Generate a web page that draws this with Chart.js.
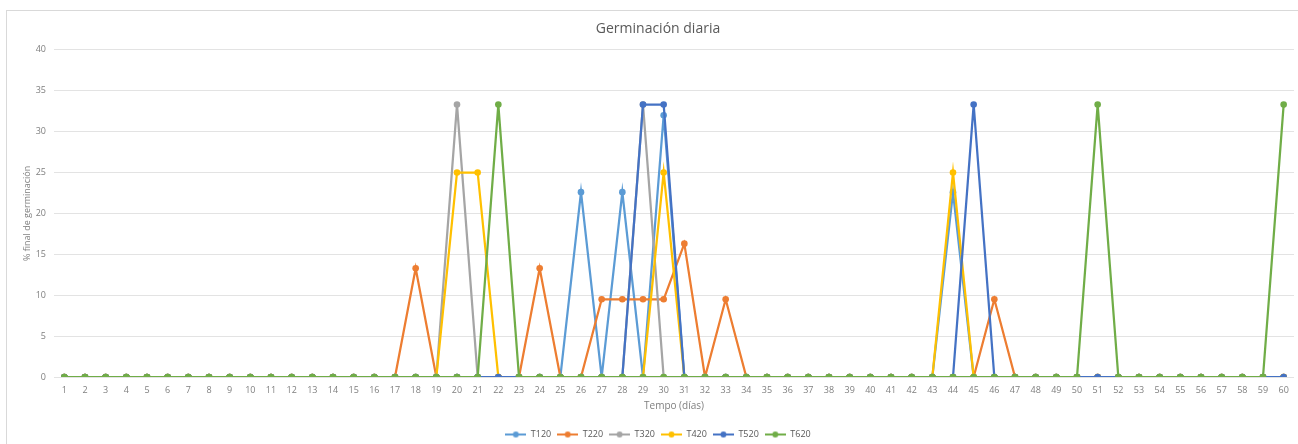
<!DOCTYPE html>
<html>
<head>
<meta charset="utf-8">
<script src="https://cdn.jsdelivr.net/npm/chart.js@4"></script>
<style>
  html, body { margin: 0; padding: 0; background: #fff; }
  #frame { position: absolute; left: 6px; top: 10px; width: 1300px; height: 440px; border: 1px solid #d9d9d9; box-sizing: border-box; }
  #wrap { position: absolute; left: 0; top: 0; width: 1298px; height: 444px; }
</style>
</head>
<body>
<div id="frame"></div>
<div id="wrap"><canvas id="c" width="1298" height="444"></canvas></div>
<script>
// Days of the trial (x axis categories)
const days = [
  '1','2','3','4','5','6','7','8','9','10',
  '11','12','13','14','15','16','17','18','19','20',
  '21','22','23','24','25','26','27','28','29','30',
  '31','32','33','34','35','36','37','38','39','40',
  '41','42','43','44','45','46','47','48','49','50',
  '51','52','53','54','55','56','57','58','59','60'
];

// Daily germination (%) per treatment
const t120 = [
  0,0,0,0,0,0,0,0,0,0,
  0,0,0,0,0,0,0,0,0,0,
  0,0,0,0,0,22.6,0,22.6,0,32,
  0,0,0,0,0,0,0,0,0,0,
  0,0,0,22.6,0,0,0,0,0,0,
  0,0,0,0,0,0,0,0,0,0
];
const t220 = [
  0,0,0,0,0,0,0,0,0,0,
  0,0,0,0,0,0,0,13.3,0,0,
  0,0,0,13.3,0,0,9.5,9.5,9.5,9.5,
  16.3,0,9.5,0,0,0,0,0,0,0,
  0,0,0,0,0,9.5,0,0,0,0,
  0,0,0,0,0,0,0,0,0,0
];
const t320 = [
  0,0,0,0,0,0,0,0,0,0,
  0,0,0,0,0,0,0,0,0,33.3,
  0,0,0,0,0,0,0,0,33.3,0,
  0,0,0,0,0,0,0,0,0,0,
  0,0,0,0,0,0,0,0,0,0,
  0,0,0,0,0,0,0,0,0,0
];
const t420 = [
  0,0,0,0,0,0,0,0,0,0,
  0,0,0,0,0,0,0,0,0,25,
  25,0,0,0,0,0,0,0,0,25,
  0,0,0,0,0,0,0,0,0,0,
  0,0,0,25,0,0,0,0,0,0,
  0,0,0,0,0,0,0,0,0,0
];
const t520 = [
  0,0,0,0,0,0,0,0,0,0,
  0,0,0,0,0,0,0,0,0,0,
  0,0,0,0,0,0,0,0,33.3,33.3,
  0,0,0,0,0,0,0,0,0,0,
  0,0,0,0,33.3,0,0,0,0,0,
  0,0,0,0,0,0,0,0,0,0
];
const t620 = [
  0,0,0,0,0,0,0,0,0,0,
  0,0,0,0,0,0,0,0,0,0,
  0,33.3,0,0,0,0,0,0,0,0,
  0,0,0,0,0,0,0,0,0,0,
  0,0,0,0,0,0,0,0,0,0,
  33.3,0,0,0,0,0,0,0,0,33.3
];

const seriesNames = ['T120','T220','T320','T420','T520','T620'];
const seriesColors = ['#5B9BD5','#ED7D31','#A5A5A5','#FFC000','#4472C4','#70AD47'];
const seriesValues = [t120, t220, t320, t420, t520, t620];

// Small "line with marker" swatch for the legend
function legendSwatch(color) {
  const cv = document.createElement('canvas');
  cv.width = 21; cv.height = 8;
  const g = cv.getContext('2d');
  g.strokeStyle = color; g.lineWidth = 2;
  g.beginPath(); g.moveTo(0, 4); g.lineTo(21, 4); g.stroke();
  g.fillStyle = color;
  g.beginPath(); g.arc(10.5, 4, 3, 0, Math.PI * 2); g.fill();
  return cv;
}

const datasets = seriesNames.map((name, i) => ({
  label: name,
  data: seriesValues[i],
  borderColor: seriesColors[i],
  backgroundColor: seriesColors[i],
  borderWidth: 2.25,
  pointRadius: 3.3,
  pointHoverRadius: 3.3,
  pointBorderWidth: 0,
  tension: 0,
  order: seriesNames.length - i,
  pointStyle: 'circle'
}));

const swatches = seriesColors.map(legendSwatch);

new Chart(document.getElementById('c'), {
  type: 'line',
  data: { labels: days, datasets: datasets },
  options: {
    responsive: false,
    animation: false,
    layout: { padding: { left: 22, right: 4, top: 0, bottom: -5 } },
    plugins: {
      tooltip: { enabled: false },
      title: {
        display: true,
        text: 'Germinación diaria',
        color: '#595959',
        font: { family: 'Open Sans', size: 14, weight: 'normal' },
        padding: { top: 21, bottom: 12 }
      },
      legend: {
        position: 'bottom',
        labels: {
          color: '#595959',
          font: { family: 'Open Sans', size: 9 },
          usePointStyle: true,
          pointStyleWidth: 21,
          padding: 6,
          generateLabels: (chart) => chart.data.datasets.map((ds, i) => ({
            text: ds.label,
            pointStyle: swatches[i],
            fillStyle: ds.borderColor,
            strokeStyle: ds.borderColor,
            fontColor: '#595959',
            lineWidth: 0,
            datasetIndex: i,
            hidden: false
          }))
        }
      }
    },
    scales: {
      x: {
        type: 'category',
        offset: true,
        grid: { display: false, drawTicks: false, tickLength: 0 },
        border: { display: false },
        afterFit: (scale) => { scale.height = 47; },
        ticks: {
          color: '#7f7f7f',
          font: { family: 'Open Sans', size: 9 },
          autoSkip: false,
          maxRotation: 0,
          padding: 8
        },
        title: {
          display: true,
          text: 'Tempo (días)',
          color: '#7f7f7f',
          font: { family: 'Open Sans', size: 10 },
          padding: { top: 0, bottom: 12 }
        }
      },
      y: {
        min: 0,
        max: 40,
        grid: { color: '#e3e3e3', lineWidth: 1, drawTicks: false },
        border: { display: false },
        afterFit: (scale) => { scale.width = 32; },
        ticks: {
          stepSize: 5,
          color: '#7f7f7f',
          font: { family: 'Open Sans', size: 9 },
          padding: 8
        },
        title: {
          display: true,
          text: '% final de germinación',
          color: '#7f7f7f',
          font: { family: 'Open Sans', size: 9 },
          padding: { top: 0, bottom: 3 }
        }
      }
    }
  }
});
</script>
</body>
</html>
